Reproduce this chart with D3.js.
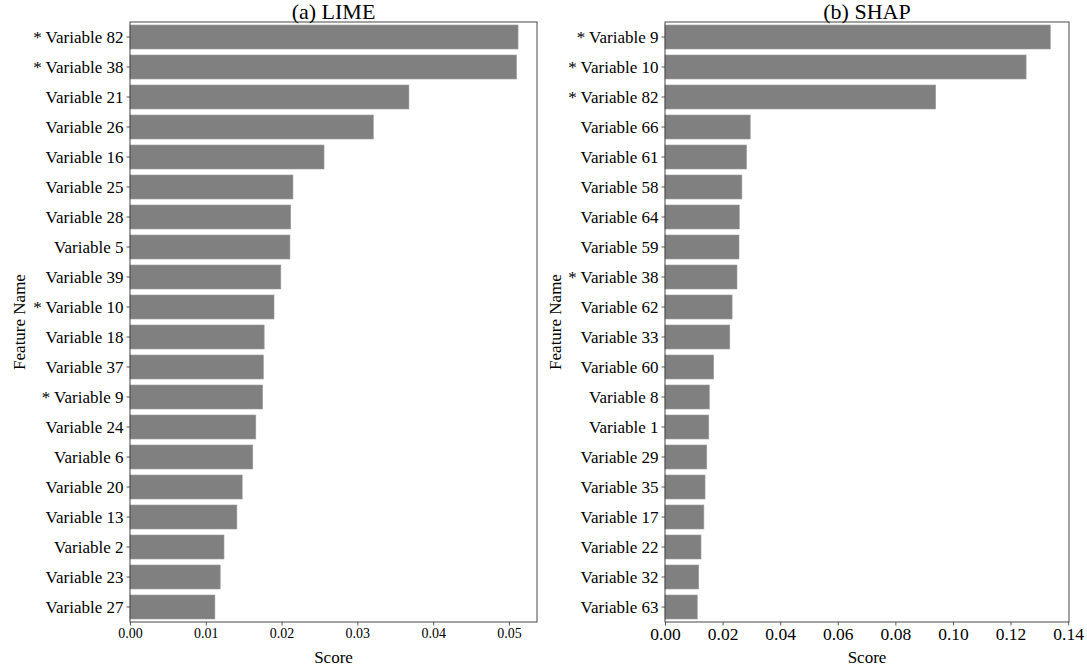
<!DOCTYPE html>
<html>
<head>
<meta charset="utf-8">
<script src="https://cdn.jsdelivr.net/npm/d3@7"></script>
<style>
  html, body { margin: 0; padding: 0; background: #fff; }
  svg { display: block; }
  text { font-family: "Liberation Serif", "Times New Roman", serif; fill: #000; }
</style>
</head>
<body>
<svg id="chart" width="1087" height="668"></svg>
<script>
// ---- data ----
const limeFeatures = ["* Variable 82", "* Variable 38", "Variable 21", "Variable 26", "Variable 16",
  "Variable 25", "Variable 28", "Variable 5", "Variable 39", "* Variable 10",
  "Variable 18", "Variable 37", "* Variable 9", "Variable 24", "Variable 6",
  "Variable 20", "Variable 13", "Variable 2", "Variable 23", "Variable 27"];
const limeScores = [0.0512, 0.0510, 0.0368, 0.0321, 0.0256,
  0.0215, 0.0212, 0.0211, 0.0199, 0.0190,
  0.0177, 0.0176, 0.0175, 0.0166, 0.0162,
  0.0148, 0.0141, 0.0124, 0.0119, 0.0112];
const limeTicks = [0, 0.01, 0.02, 0.03, 0.04, 0.05];

const shapFeatures = ["* Variable 9", "* Variable 10", "* Variable 82", "Variable 66", "Variable 61",
  "Variable 58", "Variable 64", "Variable 59", "* Variable 38", "Variable 62",
  "Variable 33", "Variable 60", "Variable 8", "Variable 1", "Variable 29",
  "Variable 35", "Variable 17", "Variable 22", "Variable 32", "Variable 63"];
const shapScores = [0.1338, 0.1254, 0.0940, 0.0296, 0.0283,
  0.0267, 0.0258, 0.0257, 0.0250, 0.0233,
  0.0225, 0.0169, 0.0154, 0.0152, 0.0145,
  0.0139, 0.0135, 0.0125, 0.0117, 0.0112];
const shapTicks = [0, 0.02, 0.04, 0.06, 0.08, 0.10, 0.12, 0.14];

const titles = ["(a) LIME", "(b) SHAP"];

// ---- drawing ----
const svg = d3.select("#chart");

function panel(opts) {
  const { x0, x1, y0, y1, features, scores, ticks, title, xmax, tickFont, ylabelX } = opts;
  const g = svg.append("g");
  const x = d3.scaleLinear().domain([0, xmax]).range([x0, x1]);
  const y = d3.scaleBand().domain(features).range([y0, y1]).paddingInner(0.2).paddingOuter(0.1);

  g.selectAll("rect.bar").data(features).join("rect")
    .attr("class", "bar")
    .attr("x", x(0))
    .attr("y", d => y(d))
    .attr("width", (d, i) => x(scores[i]) - x(0))
    .attr("height", y.bandwidth())
    .attr("fill", "#808080")
    .attr("stroke", "#9a9a9a")
    .attr("stroke-width", 0.6);

  // y axis
  const ya = g.append("g").attr("transform", `translate(${x0},0)`)
    .call(d3.axisLeft(y).tickSizeOuter(0).tickSize(3.5).tickPadding(3));
  ya.select(".domain").remove();
  ya.selectAll("line").attr("stroke", "#333").attr("stroke-width", 0.8);
  ya.selectAll("text").style("font-size", "17px").attr("dy", "0.35em");

  // x axis
  const xa = g.append("g").attr("transform", `translate(0,${y1})`)
    .call(d3.axisBottom(x).tickValues(ticks).tickFormat(d3.format(".2f")).tickSizeOuter(0).tickSize(3.5).tickPadding(2.5));
  xa.select(".domain").remove();
  xa.selectAll("line").attr("stroke", "#333").attr("stroke-width", 0.8);
  xa.selectAll("text").style("font-size", tickFont + "px");

  // frame
  g.append("rect").attr("x", x0).attr("y", y0).attr("width", x1 - x0).attr("height", y1 - y0)
    .attr("fill", "none").attr("stroke", "#333").attr("stroke-width", 0.9);

  // title
  g.append("text").attr("x", (x0 + x1) / 2).attr("y", 19).attr("text-anchor", "middle")
    .style("font-size", "22px").text(title);
  // x label
  g.append("text").attr("x", (x0 + x1) / 2).attr("y", 663).attr("text-anchor", "middle")
    .style("font-size", "17px").text("Score");
  // y label
  g.append("text").attr("transform", `translate(${ylabelX},${(y0 + y1) / 2}) rotate(-90)`)
    .attr("text-anchor", "middle").style("font-size", "17px").text("Feature Name");
}

panel({ x0: 130, x1: 537, y0: 22, y1: 622, features: limeFeatures, scores: limeScores,
  ticks: limeTicks, title: titles[0], xmax: 0.0537, tickFont: 14, ylabelX: 25 });
panel({ x0: 665, x1: 1069, y0: 22, y1: 622, features: shapFeatures, scores: shapScores,
  ticks: shapTicks, title: titles[1], xmax: 0.1403, tickFont: 17.5, ylabelX: 561 });
</script>
</body>
</html>
